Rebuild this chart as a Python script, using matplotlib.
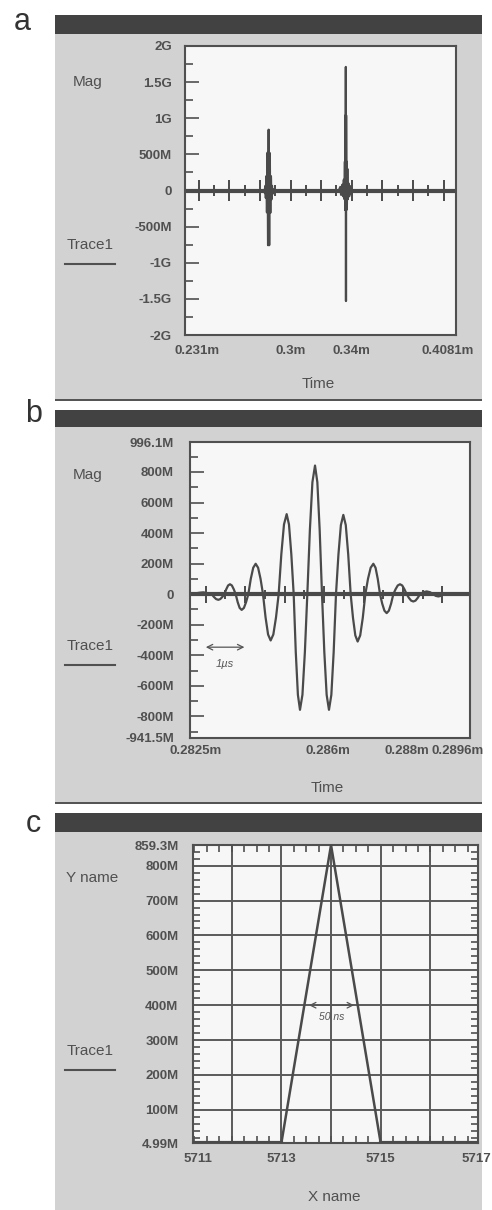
import matplotlib.pyplot as plt
from matplotlib.patches import Rectangle
from matplotlib.lines import Line2D
from matplotlib.ticker import FixedLocator, MultipleLocator
from matplotlib.transforms import ScaledTranslation

plt.rcParams['font.family'] = ['Liberation Sans', 'DejaVu Sans']

# ---- panel a: overview trace (values in M) ----
a_yticks = [2000, 1500, 1000, 500, 0, -500, -1000, -1500, -2000]
a_ylabels = ['2G', '1.5G', '1G', '500M', '0', '-500M', '-1G', '-1.5G', '-2G']
a_xticks = [0.231, 0.3, 0.34, 0.4081]
a_xlabels = ['0.231m', '0.3m', '0.34m', '0.4081m']

# time markers sitting on the baseline
a_marker_t = [0.24, 0.25, 0.26, 0.27, 0.28, 0.29, 0.30, 0.31, 0.32, 0.33,
              0.34, 0.35, 0.36, 0.37, 0.38, 0.39, 0.40]
a_marker_h = [150, 75, 150, 75, 150, 75, 150, 75, 150, 75,
              150, 75, 150, 75, 150, 75, 150]

# second (large) burst
burst2_t = [0.3315, 0.3325, 0.3330, 0.3338, 0.3343, 0.3348, 0.3352, 0.3355,
            0.3357, 0.3359, 0.3360, 0.3361, 0.3362, 0.3363, 0.3365, 0.3366,
            0.3368, 0.3371, 0.3374, 0.3378, 0.3383, 0.3390, 0.3398, 0.3405]
burst2_v = [0, 50, -60, 80, -80, 150, -120, 400,
            -270, 1040, -270, 1710, -1530, 1040, -270, 400,
            -200, 300, -120, 100, -80, 60, -50, 0]

# ---- panel b: zoom on first burst (values in M) ----
b_t = [0.282500, 0.282754, 0.282838, 0.282923, 0.283049,
       0.283106, 0.283162, 0.283218, 0.283269, 0.283320, 0.283371,
       0.283419, 0.283466, 0.283514, 0.283562, 0.283610, 0.283658,
       0.283709, 0.283759, 0.283810, 0.283867, 0.283922, 0.283979,
       0.284041, 0.284103, 0.284165, 0.284227, 0.284289, 0.284351,
       0.284416, 0.284480, 0.284545, 0.284613, 0.284681, 0.284748,
       0.284816, 0.284883, 0.284951, 0.285010, 0.285069, 0.285129,
       0.285182, 0.285236, 0.285289, 0.285351, 0.285413, 0.285475,
       0.285540, 0.285604, 0.285670, 0.285729, 0.285788, 0.285847,
       0.285906, 0.285965, 0.286024, 0.286084, 0.286143, 0.286202,
       0.286264, 0.286326, 0.286388, 0.286450, 0.286512, 0.286574,
       0.286633, 0.286692, 0.286751, 0.286816, 0.286881, 0.286946,
       0.287013, 0.287081, 0.287149, 0.287205, 0.287261, 0.287318,
       0.287374, 0.287430, 0.287487, 0.287543, 0.287599, 0.287656,
       0.287712, 0.287768, 0.287825, 0.287881, 0.287937, 0.287994,
       0.288050, 0.288106, 0.288163, 0.288219, 0.288275, 0.288332,
       0.288416, 0.288501, 0.288585, 0.288670,
       0.288729, 0.288797, 0.288864, 0.288924, 0.289600]
b_v = [0, 10, 12, 8, 0,
       -18, -32, -37, -32, -18, 0,
       32, 57, 65, 57, 32, 0,
       -52, -90, -103, -90, -52, 0,
       100, 173, 199, 173, 100, 0,
       -152, -264, -303, -264, -152, 0,
       262, 456, 524, 456, 262, 0,
       -379, -659, -757, -659, -379, 0,
       421, 733, 842, 733, 421, 0,
       -379, -659, -757, -659, -379, 0,
       260, 452, 519, 452, 260, 0,
       -155, -270, -310, -270, -155, 0,
       100, 173, 199, 173, 100, 0,
       -62, -108, -124, -108, -62, 0,
       32, 57, 65, 57, 32, 0,
       -24, -42, -48, -42, -24, 0,
       13, 18, 13, 0,
       -11, -15, -11, 0, 0]
b_marker_t = [0.2829, 0.2834, 0.2839, 0.2844, 0.2849, 0.2854, 0.2859,
              0.2864, 0.2869, 0.2874, 0.2879, 0.2884, 0.2889]
b_marker_h = [55, 30, 55, 30, 55, 30, 55, 30, 55, 30, 55, 30, 55]
b_yticks = [996.1, 800, 600, 400, 200, 0, -200, -400, -600, -800, -941.5]
b_ylabels = ['996.1M', '800M', '600M', '400M', '200M', '0', '-200M',
             '-400M', '-600M', '-800M', '-941.5M']
b_xticks = [0.2825, 0.286, 0.288, 0.2896]
b_xlabels = ['0.2825m', '0.286m', '0.288m', '0.2896m']

# ---- panel c: triangle pulse (values in M) ----
c_x = [5711.22, 5713.0, 5714.0, 5715.0, 5716.96]
c_y = [4.99, 4.99, 859.3, 4.99, 4.99]
c_grid_x = [5712, 5713, 5714, 5715, 5716]
c_grid_y = [100, 200, 300, 400, 500, 600, 700, 800]
c_yticks = [859.3, 800, 700, 600, 500, 400, 300, 200, 100, 4.99]
c_ylabels = ['859.3M', '800M', '700M', '600M', '500M', '400M', '300M',
             '200M', '100M', '4.99M']
c_xticks = [5711.22, 5713, 5715, 5716.96]
c_xlabels = ['5711', '5713', '5715', '5717']

W, H = 492, 1210
INK = '#4a4a4a'
TXT = '#505050'
PANEL = '#d2d2d2'
HEAD = '#424242'

fig = plt.figure(figsize=(W / 100, H / 100), dpi=100, facecolor='white')


def fx(x):
    return x / W


def fy(y):
    return 1 - y / H


def box(x0, y0, x1, y1, color):
    fig.add_artist(Rectangle((fx(x0), fy(y1)), fx(x1) - fx(x0), fy(y0) - fy(y1),
                             transform=fig.transFigure, facecolor=color,
                             edgecolor='none', zorder=0))


def axes_at(x0, y0, x1, y1):
    ax = fig.add_axes([fx(x0), fy(y1), fx(x1) - fx(x0), fy(y0) - fy(y1)])
    ax.set_facecolor('#f7f7f7')
    for s in ax.spines.values():
        s.set_color(TXT)
        s.set_linewidth(1.5)
    return ax


def side_text(letter, lx, ly, ytitle, yt, tr_y, xtitle, xt):
    fig.text(fx(lx), fy(ly), letter, fontsize=22, color='#333333',
             ha='center', va='center')
    fig.text(fx(yt[0]), fy(yt[1]), ytitle, fontsize=11, color=TXT,
             ha='center', va='center')
    fig.text(fx(90), fy(tr_y), 'Trace1', fontsize=11, color=TXT,
             ha='center', va='center')
    fig.add_artist(Line2D([fx(65), fx(115)], [fy(tr_y + 19), fy(tr_y + 19)],
                          transform=fig.transFigure, color=TXT, lw=1.5))
    fig.text(fx(xt[0]), fy(xt[1]), xtitle, fontsize=11, color=TXT,
             ha='center', va='center')


def set_ticks(ax, xt, xl, yt, yl, ypad, xpad, shifts):
    ax.set_yticks(yt)
    ax.set_yticklabels(yl)
    ax.set_xticks(xt)
    ax.set_xticklabels(xl)
    ax.tick_params(axis='y', direction='in', length=10, width=1.2,
                   color=TXT, labelcolor=TXT, labelsize=9.5, pad=ypad)
    ax.tick_params(axis='x', direction='in', length=0, color=TXT,
                   labelcolor=TXT, labelsize=9.5, pad=xpad)
    ax.tick_params(axis='y', which='minor', direction='in', length=6,
                   width=1.2, color=TXT)
    for lab in ax.get_xticklabels() + ax.get_yticklabels():
        lab.set_fontweight('bold')
    labs = ax.get_xticklabels()
    labs[0].set_transform(labs[0].get_transform() +
                          ScaledTranslation(shifts[0] / 100, 0, fig.dpi_scale_trans))
    labs[-1].set_transform(labs[-1].get_transform() +
                           ScaledTranslation(shifts[1] / 100, 0, fig.dpi_scale_trans))


# backgrounds
box(55, 15, 482, 34, HEAD)
box(55, 34, 482, 399, PANEL)
box(55, 399, 482, 401, '#555555')
box(55, 410, 482, 427, HEAD)
box(55, 427, 482, 802, PANEL)
box(55, 802, 482, 804, '#555555')
box(55, 813, 482, 832, HEAD)
box(55, 832, 482, 1210, PANEL)

# ---------------- panel a ----------------
ax = axes_at(185, 46, 456, 335)
ax.axhline(0, color=INK, lw=3)
ax.vlines(a_marker_t, [-h for h in a_marker_h], a_marker_h, color=INK, lw=1.4)
ax.plot(b_t, b_v, color=INK, lw=1.6)
ax.plot(burst2_t, burst2_v, color=INK, lw=1.6)
ax.set_xlim(0.231, 0.4081)
ax.set_ylim(-2000, 2000)
ax.yaxis.set_minor_locator(MultipleLocator(250))
set_ticks(ax, a_xticks, a_xlabels, a_yticks, a_ylabels, 9.5, 7, (12, -8))
side_text('a', 22, 22, 'Mag', (88, 82), 245, 'Time', (318, 384))

# ---------------- panel b ----------------
ax = axes_at(190, 442, 470, 738)
ax.axhline(0, color=INK, lw=3)
ax.vlines(b_marker_t, [-h for h in b_marker_h], b_marker_h, color=INK, lw=1.4)
ax.plot(b_t, b_v, color=INK, lw=1.6)
ax.set_xlim(0.2825, 0.2896)
ax.set_ylim(-941.5, 996.1)
ax.yaxis.set_minor_locator(FixedLocator([900, 700, 500, 300, 100, -100, -300,
                                         -500, -700, -900]))
set_ticks(ax, b_xticks, b_xlabels, b_yticks, b_ylabels, 11.5, 5, (6, -12))
ax.annotate('', xy=(0.28283, -347), xytext=(0.28395, -347),
            arrowprops=dict(arrowstyle='<->', color='#555555', lw=0.9))
ax.text(0.28339, -455, '1µs', fontsize=8, style='italic', color='#555555',
        ha='center', va='center')
side_text('b', 34, 414, 'Mag', (88, 475), 646, 'Time', (327, 788))

# ---------------- panel c ----------------
ax = axes_at(193, 845, 478, 1143)
for gx in c_grid_x:
    ax.axvline(gx, color='#5a5a5a', lw=1.4, zorder=1)
for gy in c_grid_y:
    ax.axhline(gy, color='#5a5a5a', lw=1.4, zorder=1)
ax.plot(c_x, c_y, color=INK, lw=1.8, zorder=3)
ax.plot([c_x[0], c_x[1]], [c_y[0], c_y[1]], color=INK, lw=3, zorder=3)
ax.plot([c_x[3], c_x[4]], [c_y[3], c_y[4]], color=INK, lw=3, zorder=3)
ax.set_xlim(5711.22, 5716.96)
ax.set_ylim(4.99, 859.3)
set_ticks(ax, c_xticks, c_xlabels, c_yticks, c_ylabels, 10.5, 7, (5, -2))
ax.yaxis.set_minor_locator(MultipleLocator(20))
ax.xaxis.set_minor_locator(MultipleLocator(0.25))
ax.tick_params(axis='y', which='major', length=0)
ax.tick_params(which='minor', direction='in', length=5, width=1.2, color=TXT,
               top=True, right=True, bottom=True, left=True)
ax.annotate('', xy=(5713.5, 400), xytext=(5714.52, 400),
            arrowprops=dict(arrowstyle='<->', color='#555555', lw=0.9))
ax.text(5714.02, 366, '50 ns', fontsize=7.5, style='italic', color='#555555',
        ha='center', va='center')
side_text('c', 33, 824, 'Y name', (92, 878), 1051, 'X name', (334, 1197))

fig.savefig('out.png', dpi=100, facecolor='white')
